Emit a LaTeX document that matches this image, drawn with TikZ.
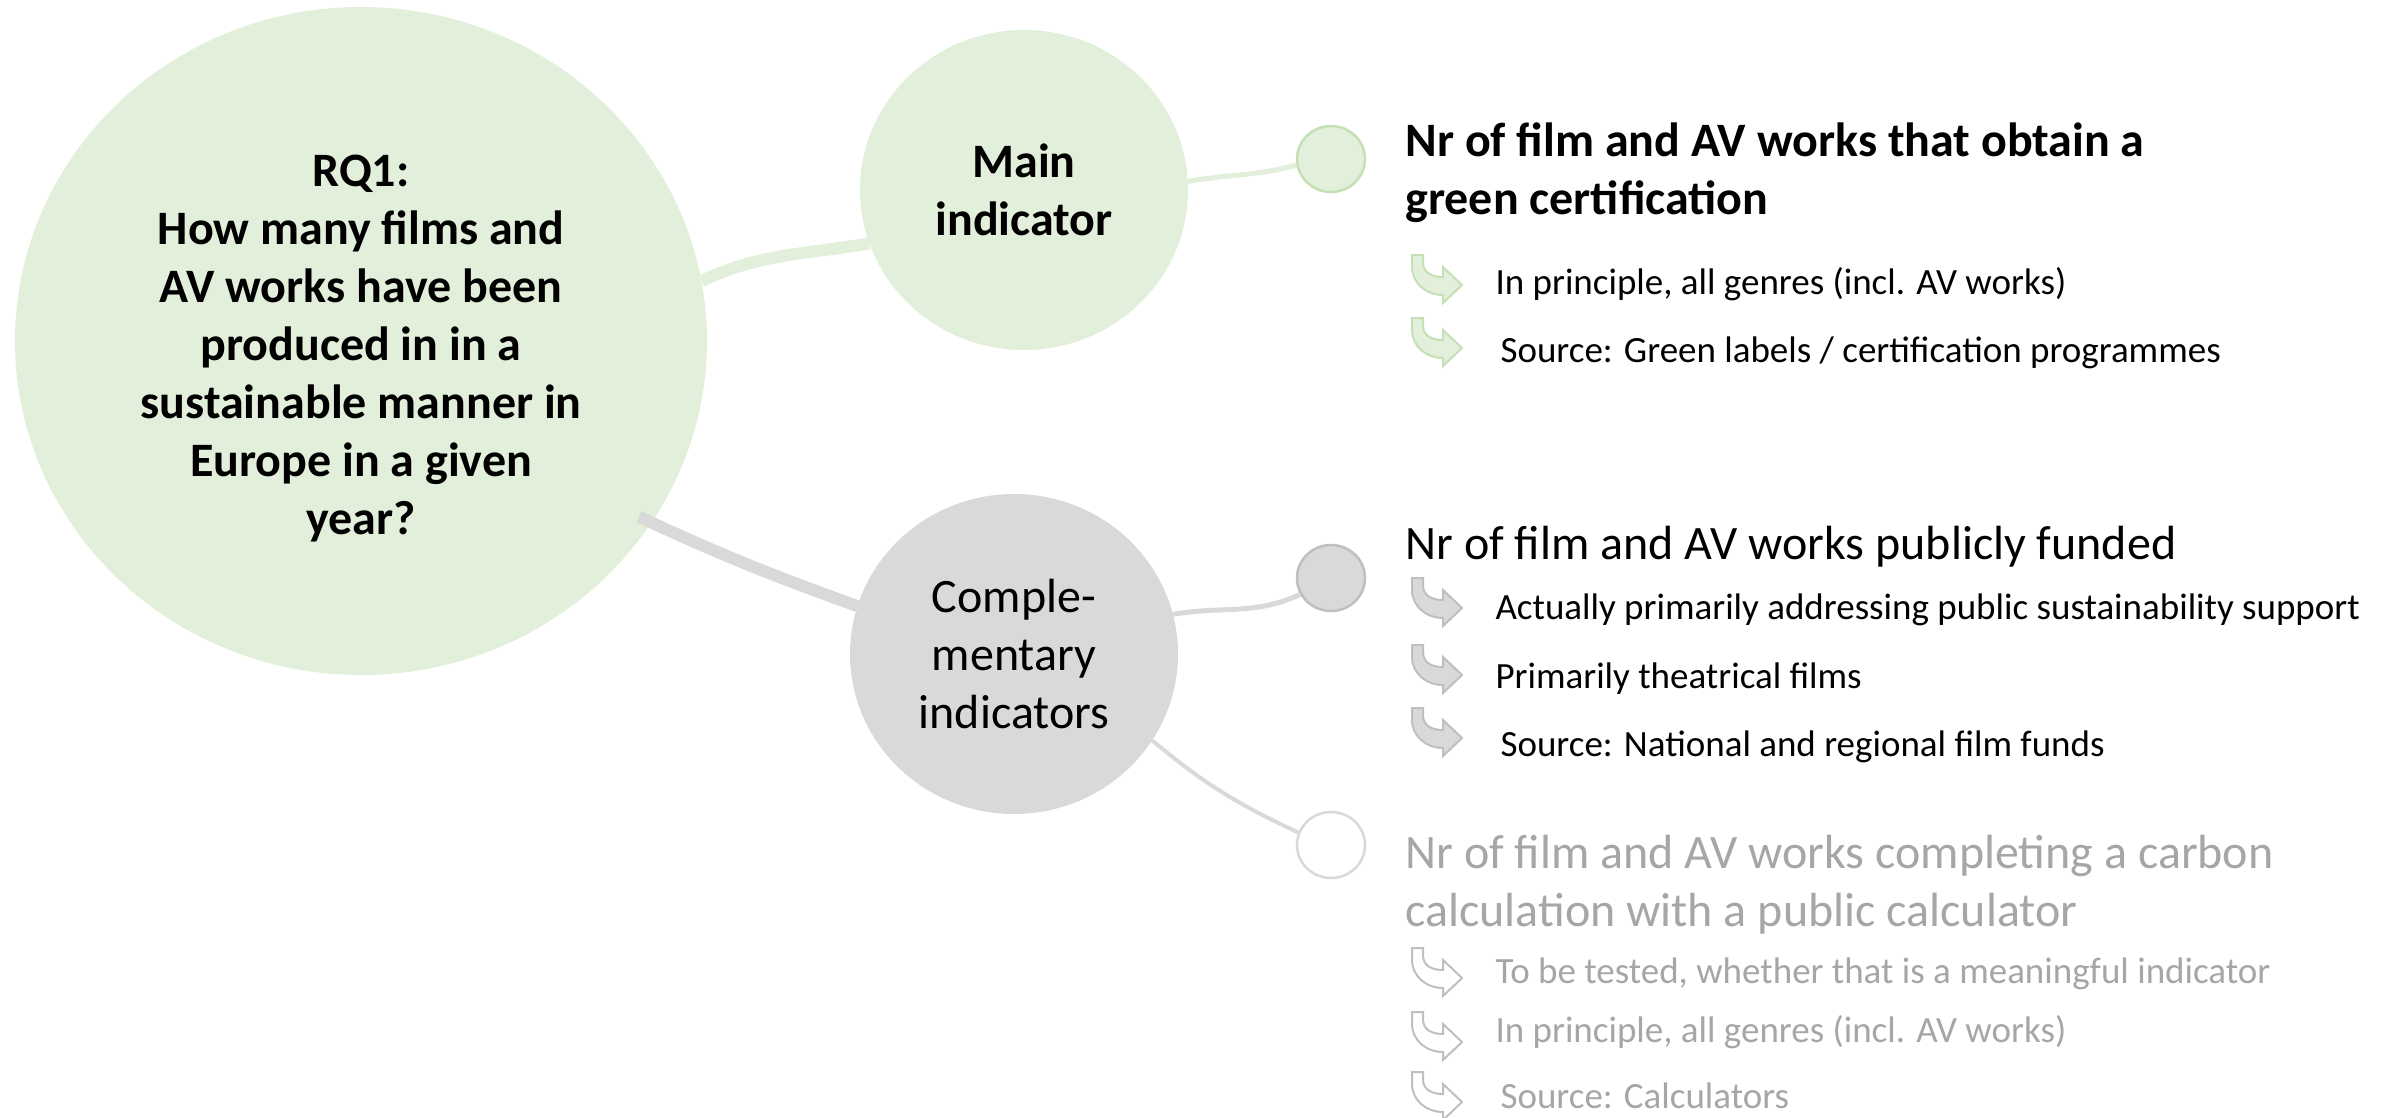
\documentclass[tikz,border=0pt]{standalone}
\usepackage{fontspec}
\setmainfont{Carlito}
\usepackage{tikz}
\definecolor{lg}{RGB}{226, 239, 218}
\definecolor{mg}{RGB}{197, 224, 180}
\definecolor{cc}{RGB}{217, 217, 217}
\definecolor{dc}{RGB}{191, 191, 191}
\definecolor{tg}{RGB}{166, 166, 166}
\usetikzlibrary{shapes.geometric}
\tikzset{
  bigfont/.style={font=\fontsize{48}{58}\selectfont},
  boldfont/.style={font=\fontsize{48}{58}\selectfont\bfseries},
  smallfont/.style={font=\fontsize{37}{44}\selectfont},
  hub/.style={ellipse, inner sep=0pt, align=center},
  dot/.style={ellipse, minimum width=68pt, minimum height=66pt, line width=2.5pt},
  bendarr/.pic={
    \path [pic actions, line width=2pt] (0pt, 0pt) -- (11pt, 0pt) -- (11pt, -7pt)
      .. controls (11pt, -18pt) and (20pt, -22pt) .. (31pt, -22pt) -- (31pt, -12pt)
      -- (50pt, -30pt) -- (31pt, -48pt) -- (31pt, -40pt)
      .. controls (14pt, -40pt) and (0pt, -28pt) .. (0pt, -12pt) -- cycle;
  }
}

\begin{document}
\begin{tikzpicture}
\useasboundingbox (0pt, 0pt) rectangle (2397pt, -1117pt);
\node (rq) [hub, fill=lg, minimum width=692pt, minimum height=668pt, boldfont] at (361pt, -341pt) {\rule{0pt}{46pt}RQ1:\\How many films and\\AV works have been\\produced in in a\\sustainable manner in\\Europe in a given\\year?};
\node (main) [hub, fill=lg, minimum width=328pt, minimum height=320pt, boldfont] at (1024pt, -190pt) {Main\\indicator};
\node (comp) [hub, fill=cc, minimum width=328pt, minimum height=320pt, bigfont] at (1014pt, -654pt) {Comple-\\mentary\\indicators};
\node (d1) [dot, fill=lg, draw=mg] at (1331pt, -159pt) {};
\node (d2) [dot, fill=cc, draw=dc] at (1331pt, -578pt) {};
\node (d3) [dot, fill=white, draw=cc] at (1331pt, -845pt) {};
\draw [line width=12pt, color=lg] (rq.10) to[out=25, in=190] (main.199);
\draw [line width=12pt, color=cc, shorten <=-14pt] (rq.-32) to[out=-25, in=160] (comp.163);
\draw [line width=5pt, color=lg] (main.3) to[out=10, in=195] (d1.190);
\draw [line width=5pt, color=cc] (comp.14) to[out=10, in=205] (d2.208);
\draw [line width=4pt, color=cc] (comp.-32) to[out=-40, in=155] (d3.159);
% main indicator
\node (h1) [anchor=west, align=left, boldfont] at (1402pt, -173pt) {Nr of film and AV works that obtain a\\green certification};
\pic [fill=lg, draw=mg] at (1412pt, -255pt) {bendarr};
\pic [fill=lg, draw=mg] at (1412pt, -318pt) {bendarr};
\node (a1) [anchor=west, smallfont] at (1492pt, -284pt) {In principle, all genres (incl. AV works)};
\node (a2) [anchor=west, smallfont] at (1497pt, -353pt) {Source: Green labels / certification programmes};
% publicly funded
\node (h2) [anchor=west, bigfont] at (1402pt, -547pt) {Nr of film and AV works publicly funded};
\pic [fill=cc, draw=dc] at (1412pt, -578pt) {bendarr};
\pic [fill=cc, draw=dc] at (1412pt, -645pt) {bendarr};
\pic [fill=cc, draw=dc] at (1412pt, -708pt) {bendarr};
\node (b1) [anchor=west, smallfont] at (1492pt, -610pt) {Actually primarily addressing public sustainability support};
\node (b2) [anchor=west, smallfont] at (1492pt, -679pt) {Primarily theatrical films};
\node (b3) [anchor=west, smallfont] at (1497pt, -747pt) {Source: National and regional film funds};
% carbon calculator
\node (h3) [anchor=west, align=left, bigfont, text=tg] at (1402pt, -885pt) {Nr of film and AV works completing a carbon\\calculation with a public calculator};
\pic [fill=white, draw=dc] at (1412pt, -948pt) {bendarr};
\pic [fill=white, draw=dc] at (1412pt, -1012pt) {bendarr};
\pic [fill=white, draw=dc] at (1412pt, -1072pt) {bendarr};
\node (c1) [anchor=west, smallfont, text=tg] at (1492pt, -974pt) {To be tested, whether that is a meaningful indicator};
\node (c2) [anchor=west, smallfont, text=tg] at (1492pt, -1032pt) {In principle, all genres (incl. AV works)};
\node (c3) [anchor=west, smallfont, text=tg] at (1497pt, -1096pt) {Source: Calculators};
\end{tikzpicture}
\end{document}
